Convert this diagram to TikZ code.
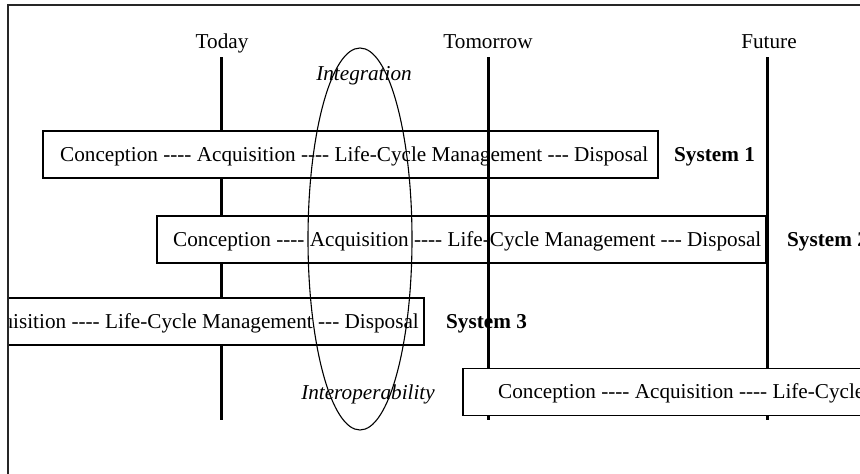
\documentclass[tikz,border=0pt]{standalone}
\usepackage{fontspec}
% plain family: no TeX ligatures, so "----" stays four hyphens
\newfontfamily\plainserif{Liberation Serif}
\usetikzlibrary{shapes.geometric}
\begin{document}
\begin{tikzpicture}[x=1pt,y=-1pt,
  every node/.style={font=\plainserif\fontsize{21.2}{25}\selectfont, inner sep=0pt},
  era/.style={anchor=base},
  timeline/.style={line width=3pt},
  stagebox/.style={rectangle, draw, fill=white, line width=1.3pt, minimum height=47pt},
  stagetext/.style={anchor=base west},
  sysname/.style={anchor=base west, font=\plainserif\fontsize{21.2}{25}\selectfont\bfseries},
  theme/.style={anchor=base, font=\plainserif\fontsize{21.2}{25}\selectfont\itshape},
  lens/.style={ellipse, draw, line width=1.1pt, minimum width=104pt, minimum height=382pt},
]
\useasboundingbox (0,0) rectangle (860,474);
\fill[white] (0,0) rectangle (860,474);

\begin{scope}
% everything inside the frame is cut at the frame
\clip (8,5) rectangle (860,474);

% time horizons
\node[era] (today) at (222,48) {Today};
\node[era] (tomorrow) at (488,48) {Tomorrow};
\node[era] (future) at (769,48) {Future};
\coordinate (today-top) at (221,57);   \coordinate (today-end) at (221,420);
\coordinate (tomorrow-top) at (488,57); \coordinate (tomorrow-end) at (488,420);
\coordinate (future-top) at (767,57);  \coordinate (future-end) at (767,420);

\draw[timeline] (today-top) -- (today-end);

% system life cycles
\node[stagebox, minimum width=615pt] (sys1) at (350.5,154.5) {};
\node[stagetext] (sys1t) at (60,161) {Conception ---- Acquisition ---- Life-Cycle Management --- Disposal};

\node[stagebox, minimum width=609pt] (sys2) at (461.5,239.5) {};
\node[stagetext] (sys2t) at (173,246) {Conception ---- Acquisition ---- Life-Cycle Management --- Disposal};

\node[stagebox, minimum width=609pt] (sys3) at (119.5,321.5) {};
\node[stagetext, anchor=base east] (sys3t) at (419,328) {Conception ---- Acquisition ---- Life-Cycle Management --- Disposal};

\draw[timeline] (tomorrow-top) -- (tomorrow-end);
\draw[timeline] (future-top) -- (future-end);

\node[sysname] (name1) at (674,161) {System 1};
\node[sysname] (name2) at (787,246) {System 2};
\node[sysname] (name3) at (446,328) {System 3};

\node[stagebox, minimum width=638pt] (sys4) at (782,392) {};
\node[stagetext] (sys4t) at (498,398.5) {Conception ---- Acquisition ---- Life-Cycle Management --- Disposal};

% integration / interoperability lens
\node[lens] (lens) at (360,239) {};
\node[theme] (integ) at (364,80) {Integration};
\node[theme] (interop) at (368,399) {Interoperability};
\end{scope}

% outer frame
\draw[line width=2.2pt, black!85] (8,5) rectangle (900,520);
\end{tikzpicture}
\end{document}
